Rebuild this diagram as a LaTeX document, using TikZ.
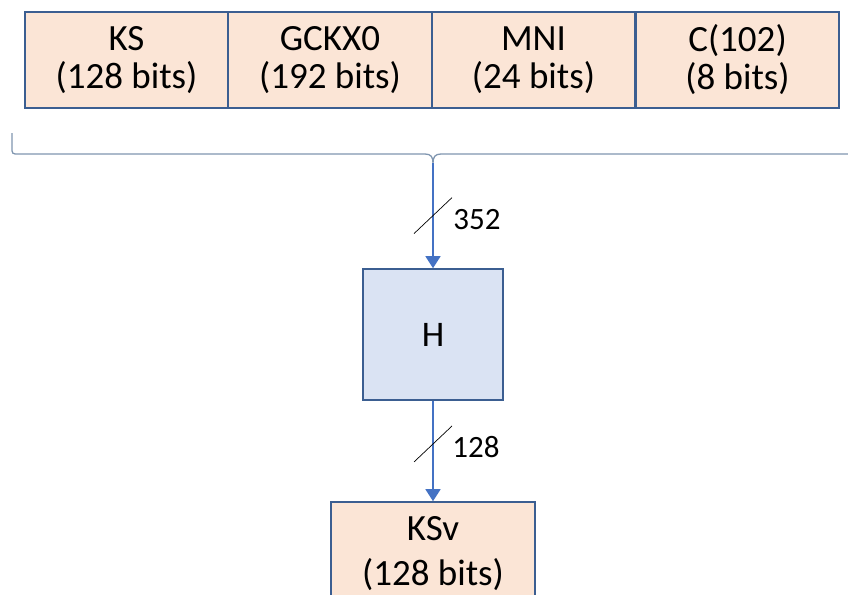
\documentclass[tikz,border=0pt]{standalone}
\usepackage{fontspec}
\setmainfont{Carlito}
\usetikzlibrary{arrows.meta,calc}
\definecolor{peach}{HTML}{FBE5D6}
\definecolor{ice}{HTML}{DAE3F3}
\definecolor{edge}{HTML}{3B5E91}
\definecolor{flow}{HTML}{4472C4}
\definecolor{bracec}{HTML}{8096B0}
\begin{document}
\begin{tikzpicture}[x=1pt,y=-1pt,
  field/.style={draw=edge, line width=1.6pt, fill=peach, minimum width=203.5pt,
    minimum height=96pt, inner sep=0pt, align=center, font=\fontsize{37}{38}\selectfont},
  hashbox/.style={draw=edge, line width=1.6pt, fill=ice, minimum width=140pt,
    minimum height=131pt, inner sep=0pt, font=\fontsize{36}{36}\selectfont},
  outbox/.style={draw=edge, line width=1.6pt, fill=peach, minimum width=204pt,
    minimum height=104pt, inner sep=0pt, align=center, font=\fontsize{37}{45}\selectfont},
  flowline/.style={flow, line width=1.4pt, -{Triangle[length=12pt,width=15pt]}},
  slashmark/.style={black, line width=0.7pt},
  widthlabel/.style={font=\fontsize{31}{31}\selectfont, inner sep=0pt},
  bracestroke/.style={bracec, line width=1.3pt}]
  \clip (0,0) rectangle (848,594);
  \fill[white] (0,0) rectangle (848,594);

  % input fields concatenated into one block
  \node[field] (ks)    at (126.5,60) {KS\\(128 bits)};
  \node[field] (gckx)  at (330,60)   {GCKX0\\(192 bits)};
  \node[field] (mni)   at (533.5,60) {MNI\\(24 bits)};
  \node[field] (cnst)  at (737.5,60) {C(102)\\(8 bits)};

  % brace gathering the fields
  \draw[bracestroke] (12,133) -- (12,147) .. controls (12,154) .. (19,154)
    -- (425,154) .. controls (431,154) and (433,157) .. (433,163)
    coordinate (tip)
    .. controls (433,157) and (435,154) .. (441,154) -- (870,154);

  % hash function and derived key
  \node[hashbox] (hash) at (433,334.5) {H};
  \node[outbox]  (ksv)  at (433,554)   {KSv\\(128 bits)};

  \draw[flowline] (tip) -- (hash.north) coordinate[pos=0.5] (m1);
  \draw[flowline] (hash.south) -- (ksv.north) coordinate[pos=0.43] (m2);

  % bus-width marks
  \draw[slashmark] ($(m1)+(-19,18)$) -- ($(m1)+(19,-18)$);
  \draw[slashmark] ($(m2)+(-19,18)$) -- ($(m2)+(19,-18)$);
  \node[widthlabel] (w1) at ($(m1)+(44,4)$) {352};
  \node[widthlabel] (w2) at ($(m2)+(43,3)$) {128};
\end{tikzpicture}
\end{document}
